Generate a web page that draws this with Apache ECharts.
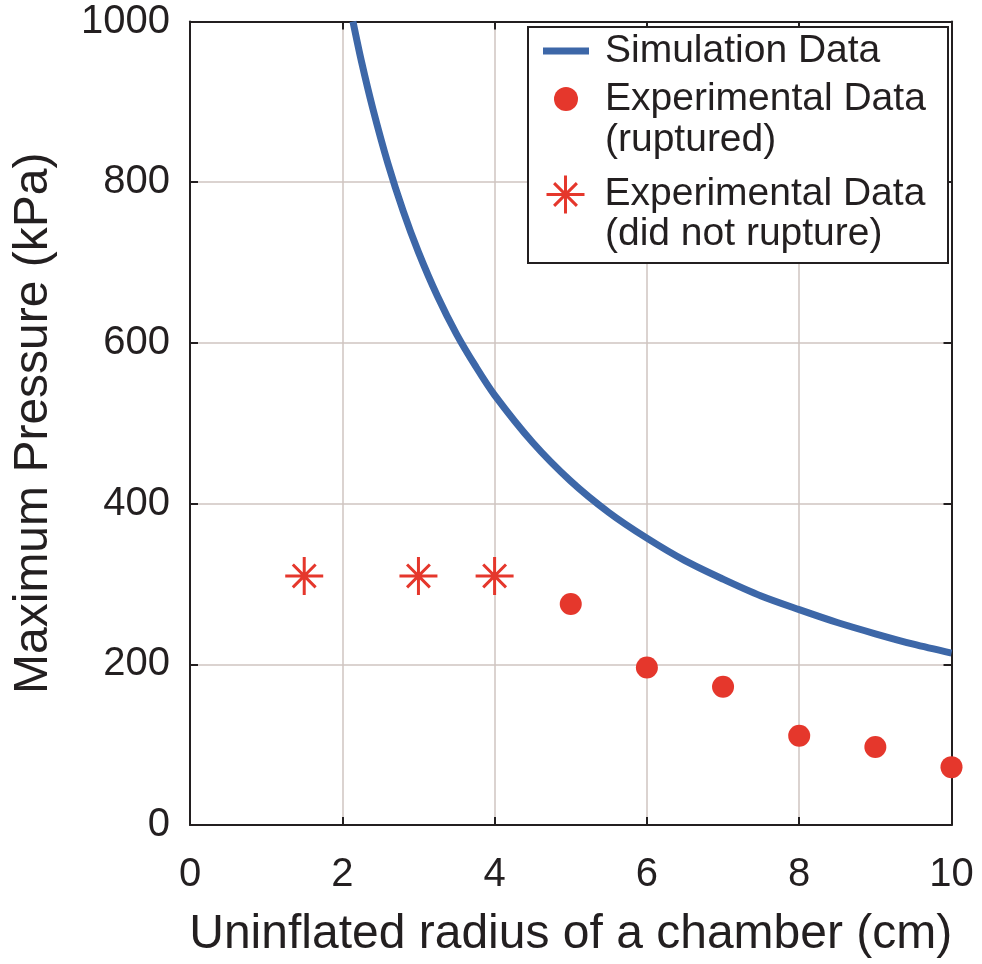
<!DOCTYPE html>
<html>
<head>
<meta charset="utf-8">
<script src="https://cdn.jsdelivr.net/npm/echarts@6/dist/echarts.min.js"></script>
<style>
html,body{margin:0;padding:0;background:#fff;}
#chart{width:982px;height:964px;}
</style>
</head>
<body>
<div id="chart"></div>
<script>
// Simulation curve
const simRadius = [2.14, 2.25, 2.4, 2.6, 2.8, 3.0, 3.25, 3.5, 3.75, 4.0, 4.5, 5.0, 5.5, 6.0, 6.5, 7.0, 7.5, 8.0, 8.5, 9.0, 9.5, 10];
const simPressure = [1000, 951, 892, 823, 764, 713, 658, 611, 571, 535, 476, 428, 389, 357, 329, 306, 285, 268, 252, 238, 225, 214];
// Experimental, ruptured
const rupRadius = [5, 6, 7, 8, 9, 10];
const rupPressure = [275, 196, 172, 111, 97, 72];
// Experimental, did not rupture
const noRupRadius = [1.5, 3, 4];
const noRupPressure = [310, 310, 310];
// Axis ticks
const xTicks = [0, 2, 4, 6, 8, 10];
const yTicks = [0, 200, 400, 600, 800, 1000];

const seriesNames = ['Simulation Data', 'Experimental Data', 'Experimental Data '];
const secondLines = ['(ruptured)', '(did not rupture)'];

const FONT = "'Liberation Sans', Arial, Helvetica, sans-serif";
const TXT = '#231f20';
const BLUE = '#3d67a8';
const RED = '#e5372c';
const GRID = '#cfc5c1';
const STAR = 'path://M0,10L20,10M10,0L10,20M4,4L16,16M16,4L4,16';

const zip = (a, b) => a.map((v, i) => [v, b[i]]);

const axisLineStyle = { color: TXT, width: 2 };
const chart = echarts.init(document.getElementById('chart'), null, { renderer: 'canvas' });

const legendBase = {
  orient: 'vertical', padding: 0, itemWidth: 46,
  textStyle: { fontFamily: FONT, fontSize: 39, color: TXT, lineHeight: 40, padding: [0, 0, 0, 11] },
  selectedMode: false, z: 6
};

chart.setOption({
  animation: false,
  backgroundColor: '#fff',
  grid: { left: 190, right: 30.5, top: 21.5, bottom: 134, containLabel: false },
  xAxis: [
    {
      type: 'value', min: xTicks[0], max: xTicks[xTicks.length - 1], interval: 2, position: 'bottom',
      axisLine: { show: true, onZero: false, lineStyle: axisLineStyle },
      axisTick: { show: true, inside: true, length: 8, lineStyle: axisLineStyle },
      axisLabel: { fontFamily: FONT, fontSize: 40, color: TXT, margin: 30, formatter: v => String(v) },
      splitLine: { show: true, lineStyle: { color: GRID, width: 1.5 } },
      name: 'Uninflated radius of a chamber (cm)', nameLocation: 'middle', nameGap: 86,
      nameTextStyle: { fontFamily: FONT, fontSize: 48, color: TXT }
    },
    {
      type: 'value', min: xTicks[0], max: xTicks[xTicks.length - 1], interval: 2, position: 'top',
      axisLine: { show: true, onZero: false, lineStyle: axisLineStyle },
      axisTick: { show: true, inside: true, length: 8, lineStyle: axisLineStyle },
      axisLabel: { show: false }, splitLine: { show: false }
    }
  ],
  yAxis: [
    {
      type: 'value', min: yTicks[0], max: yTicks[yTicks.length - 1], interval: 200, position: 'left',
      axisLine: { show: true, onZero: false, lineStyle: axisLineStyle },
      axisTick: { show: true, inside: true, length: 8, lineStyle: axisLineStyle },
      axisLabel: { fontFamily: FONT, fontSize: 40, color: TXT, margin: 20, formatter: v => String(v) },
      splitLine: { show: true, lineStyle: { color: GRID, width: 1.5 } },
      name: 'Maximum Pressure (kPa)', nameLocation: 'middle', nameGap: 132,
      nameTextStyle: { fontFamily: FONT, fontSize: 48, color: TXT }
    },
    {
      type: 'value', min: yTicks[0], max: yTicks[yTicks.length - 1], interval: 200, position: 'right',
      axisLine: { show: true, onZero: false, lineStyle: axisLineStyle },
      axisTick: { show: true, inside: true, length: 8, lineStyle: axisLineStyle },
      axisLabel: { show: false }, splitLine: { show: false }
    }
  ],
  legend: [
    Object.assign({}, legendBase, { left: 543, top: 31, itemHeight: 7, data: [{ name: seriesNames[0], icon: 'rect' }] }),
    Object.assign({}, legendBase, { left: 554, top: 79, itemHeight: 24, data: [{ name: seriesNames[1], icon: 'circle' }] }),
    Object.assign({}, legendBase, { left: 545, top: 174, itemHeight: 38, data: [{ name: seriesNames[2], icon: STAR, itemStyle: { borderWidth: 3, borderColor: RED } }] })
  ],
  graphic: [
    { type: 'rect', z: 5, shape: { x: 528, y: 27, width: 420, height: 236 }, style: { fill: '#fff', stroke: TXT, lineWidth: 2 } },
    { type: 'text', z: 7, x: 605, y: 140, style: { text: secondLines[0], fontFamily: FONT, fontSize: 39, fill: TXT, verticalAlign: 'middle' } },
    { type: 'text', z: 7, x: 605, y: 234, style: { text: secondLines[1], fontFamily: FONT, fontSize: 39, fill: TXT, verticalAlign: 'middle' } }
  ],
  series: [
    {
      name: seriesNames[0], type: 'line', data: zip(simRadius, simPressure),
      xAxisIndex: 0, yAxisIndex: 0, showSymbol: false, smooth: 0.3, clip: true,
      color: BLUE, lineStyle: { color: BLUE, width: 7 }, itemStyle: { color: BLUE }, z: 3
    },
    {
      name: seriesNames[1], type: 'scatter', data: zip(rupRadius, rupPressure),
      symbol: 'circle', symbolSize: 22, itemStyle: { color: RED, opacity: 1 }, z: 4
    },
    {
      name: seriesNames[2], type: 'scatter', data: zip(noRupRadius, noRupPressure),
      symbol: STAR, symbolSize: 38, itemStyle: { color: RED, borderColor: RED, borderWidth: 3, opacity: 1 }, z: 4
    }
  ]
});
</script>
</body>
</html>
